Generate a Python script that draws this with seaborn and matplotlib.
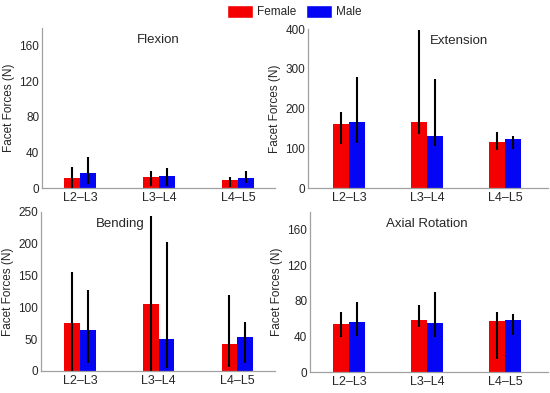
import pandas as pd
import matplotlib
matplotlib.use("Agg")
import matplotlib.pyplot as plt
import seaborn as sns
from matplotlib.patches import Patch

# ---------------------------------------------------------------------
# Data
# ---------------------------------------------------------------------
LEVELS = ["L2–L3", "L3–L4", "L4–L5"]

flex_f = [11, 12, 8.6]
flex_f_lo = [0, 2, 1]
flex_f_hi = [24, 18.7, 12]
flex_m = [17, 14, 11]
flex_m_lo = [5, 2, 6]
flex_m_hi = [34.5, 22.5, 19.5]

ext_f = [160, 167, 115]
ext_f_lo = [110, 135, 95]
ext_f_hi = [191, 397, 141]
ext_m = [166, 132, 123]
ext_m_lo = [113, 105, 99]
ext_m_hi = [280, 273, 132]

bend_f = [75, 106, 43]
bend_f_lo = [0, 0, 7]
bend_f_hi = [156, 243, 120]
bend_m = [64, 50, 53]
bend_m_lo = [12, 5, 12]
bend_m_hi = [127, 203, 77]

axial_f = [54, 58, 57]
axial_f_lo = [39, 50.5, 15]
axial_f_hi = [68, 75, 67]
axial_m = [56, 55, 59]
axial_m_lo = [40, 39, 42]
axial_m_hi = [79, 90.5, 65]

RED = "#f40000"
BLUE = "#0505f5"

# panel: title, values, y-limit, ticks, axes rect, xlim, title pos
panels = [
    ("Flexion", (flex_f, flex_f_lo, flex_f_hi, flex_m, flex_m_lo, flex_m_hi),
     180, [0, 40, 80, 120, 160], [0.0764, 0.5216, 0.4236, 0.4071], (-0.48, 2.47), (0.50, 0.96)),
    ("Extension", (ext_f, ext_f_lo, ext_f_hi, ext_m, ext_m_lo, ext_m_hi),
     400, [0, 100, 200, 300, 400], [0.560, 0.5216, 0.436, 0.4046], (-0.526, 2.55), (0.63, 0.96)),
    ("Bending", (bend_f, bend_f_lo, bend_f_hi, bend_m, bend_m_lo, bend_m_hi),
     250, [0, 50, 100, 150, 200, 250], [0.0745, 0.056, 0.4255, 0.4046], (-0.497, 2.48), (0.34, 0.96)),
    ("Axial Rotation", (axial_f, axial_f_lo, axial_f_hi, axial_m, axial_m_lo, axial_m_hi),
     180, [0, 40, 80, 120, 160], [0.5636, 0.0534, 0.4324, 0.4072], (-0.5, 2.55), (0.49, 0.96)),
]

sns.set_style("white")
plt.rcParams["font.family"] = ["Liberation Sans", "DejaVu Sans"]

fig = plt.figure(figsize=(5.5, 3.93), dpi=100)

for title, vals, ymax, ticks, rect, xlim, tpos in panels:
    f, flo, fhi, m, mlo, mhi = vals
    df = pd.DataFrame({
        "level": LEVELS * 2,
        "sex": ["Female"] * 3 + ["Male"] * 3,
        "force": f + m,
        "lo": flo + mlo,
        "hi": fhi + mhi,
    })
    ax = fig.add_axes(rect)
    sns.barplot(data=df, x="level", y="force", hue="sex", order=LEVELS,
                hue_order=["Female", "Male"], palette=[RED, BLUE],
                width=0.4, gap=0, errorbar=None, legend=False, ax=ax,
                saturation=1, linewidth=0)
    # error bars on bar centres
    bars = [p for p in ax.patches][:6]
    for p, (_, row) in zip(bars, df.iterrows()):
        xc = p.get_x() + p.get_width() / 2
        ax.errorbar(xc, row.force,
                    yerr=[[row.force - row.lo], [row.hi - row.force]],
                    fmt="none", ecolor="black", elinewidth=1.5, capsize=0)
    ax.set_ylim(0, ymax)
    ax.set_xlim(*xlim)
    ax.set_yticks(ticks)
    ax.tick_params(axis="y", length=0, labelsize=8.5, pad=2)
    ax.tick_params(axis="x", length=0, labelsize=9, pad=3)
    ax.set_xlabel("")
    ax.set_ylabel("Facet Forces (N)", fontsize=8.5, labelpad=3)
    for s in ["top", "right"]:
        ax.spines[s].set_visible(False)
    for s in ["left", "bottom"]:
        ax.spines[s].set_color("#a0a0a0")
        ax.spines[s].set_linewidth(0.9)
    ax.text(tpos[0], tpos[1], title, transform=ax.transAxes,
            ha="center", va="top", fontsize=9.5)

handles = [Patch(facecolor=RED, label="Female"), Patch(facecolor=BLUE, label="Male")]
fig.legend(handles=handles, loc="upper center", bbox_to_anchor=(0.535, 1.015),
           ncol=2, frameon=False, fontsize=8.5, handlelength=2.2, handleheight=1.3,
           columnspacing=0.85, handletextpad=0.3)

plt.savefig("out.png", dpi=100)
plt.close()
